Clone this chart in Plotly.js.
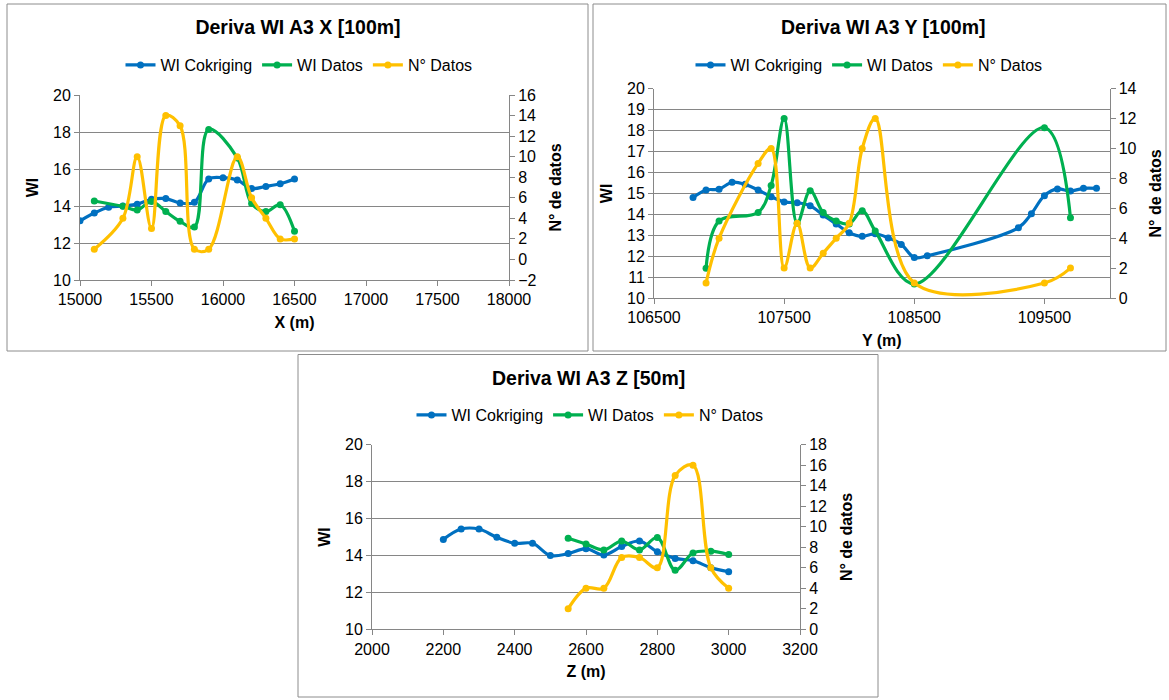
<!DOCTYPE html>
<html>
<head>
<meta charset="utf-8">
<script src="https://cdn.plot.ly/plotly-3.0.1.min.js"></script>
<style>html,body{margin:0;padding:0;background:#fff;}#chart{width:1169px;height:700px;}</style>
</head>
<body>
<div id="chart"></div>
<script>
// ---------- Data ----------
const seriesNames = ["WI Cokriging", "WI Datos", "N° Datos"];
const panelTitles = ["Deriva WI A3 X [100m]", "Deriva WI A3 Y [100m]", "Deriva WI A3 Z [50m]"];
const xAxisTitles = ["X (m)", "Y (m)", "Z (m)"];

// Panel X
const cokX_pos = [15000,15100,15200,15300,15400,15500,15600,15700,15800,15900,16000,16100,16200,16300,16400,16500];
const cokX_wi  = [13.2,13.62,13.93,14.0,14.1,14.36,14.4,14.16,14.2,15.46,15.53,15.4,14.95,15.06,15.2,15.46];
const datX_pos = [15100,15300,15400,15500,15600,15700,15800,15900,16100,16200,16300,16400,16500];
const datX_wi  = [14.27,13.98,13.78,14.25,13.7,13.17,12.86,18.14,16.6,14.13,13.7,14.07,12.63];
const datX_n   = [1,4,10,3,14,13,1,1,10,6,4,2,2];

// Panel Y
const cokY_pos = [106800,106900,107000,107100,107200,107300,107400,107500,107600,107700,107800,107900,108000,108100,108200,108300,108400,108500,108600,109300,109400,109500,109600,109700,109800,109900];
const cokY_wi  = [14.8,15.16,15.2,15.53,15.43,15.16,14.84,14.59,14.55,14.41,13.96,13.54,13.12,12.95,13.07,12.87,12.56,11.93,12.02,13.36,14.03,14.89,15.21,15.11,15.24,15.24];
const datY_pos = [106900,107000,107300,107400,107500,107600,107700,107800,107900,108000,108100,108200,108500,109500,109700];
const datY_wi  = [11.42,13.68,14.09,15.38,18.58,13.57,15.13,14.08,13.68,13.54,14.17,13.2,10.67,18.14,13.84];
const datY_n   = [1,4,9,10,2,5,2,3,4,5,10,12,1,1,2];

// Panel Z
const cokZ_pos = [2200,2250,2300,2350,2400,2450,2500,2550,2600,2650,2700,2750,2800,2850,2900,2950,3000];
const cokZ_wi  = [14.87,15.43,15.43,14.98,14.66,14.66,14.0,14.1,14.37,14.03,14.48,14.78,14.2,13.84,13.72,13.34,13.12];
const datZ_pos = [2550,2600,2650,2700,2750,2800,2850,2900,2950,3000];
const datZ_wi  = [14.93,14.62,14.3,14.78,14.3,14.97,13.2,14.14,14.23,14.05];
const datZ_n   = [2,4,4,7,7,6,15,16,6,4];

// ---------- Styling ----------
const W = 1169, H = 700;
const FONT = '"Liberation Sans", Arial, sans-serif';
const C_BLUE = '#0070C0', C_GREEN = '#00B050', C_YEL = '#FFC000';
const GRID = '#868686';
const px = v => v / W;
const py = v => 1 - v / H;

function trace(x, y, name, color, xa, ya, leg) {
  return {
    type: 'scatter', mode: 'lines+markers', x: x, y: y, name: name,
    line: {color: color, width: 3.2, shape: 'spline', smoothing: 1},
    marker: {color: color, size: 7},
    xaxis: xa, yaxis: ya, legend: leg, showlegend: true, hoverinfo: 'x+y'
  };
}

const data = [
  trace(cokX_pos, cokX_wi, seriesNames[0], C_BLUE, 'x', 'y', 'legend'),
  trace(datX_pos, datX_wi, seriesNames[1], C_GREEN, 'x', 'y', 'legend'),
  trace(datX_pos, datX_n, seriesNames[2], C_YEL, 'x', 'y2', 'legend'),
  trace(cokY_pos, cokY_wi, seriesNames[0], C_BLUE, 'x2', 'y3', 'legend2'),
  trace(datY_pos, datY_wi, seriesNames[1], C_GREEN, 'x2', 'y3', 'legend2'),
  trace(datY_pos, datY_n, seriesNames[2], C_YEL, 'x2', 'y4', 'legend2'),
  trace(cokZ_pos, cokZ_wi, seriesNames[0], C_BLUE, 'x3', 'y5', 'legend3'),
  trace(datZ_pos, datZ_wi, seriesNames[1], C_GREEN, 'x3', 'y5', 'legend3'),
  trace(datZ_pos, datZ_n, seriesNames[2], C_YEL, 'x3', 'y6', 'legend3')
];

const tickFont = {family: FONT, size: 16, color: '#000'};
const titleFont = {family: FONT, size: 16, color: '#000'};

function xAxis(domain, anchor, range, dtick, tick0, title) {
  return {
    domain: domain, anchor: anchor, range: range, dtick: dtick, tick0: tick0, tickformat: 'd',
    showgrid: false, zeroline: false, showline: true, linecolor: GRID, linewidth: 1,
    ticks: 'outside', ticklen: 5, tickcolor: GRID, tickfont: tickFont,
    title: {text: '<b>' + title + '</b>', font: titleFont, standoff: 9},
    automargin: false, fixedrange: true
  };
}
function yLeft(domain, anchor, range, dtick) {
  return {
    domain: domain, anchor: anchor, range: range, dtick: dtick,
    showgrid: true, gridcolor: GRID, gridwidth: 1, zeroline: false,
    showline: true, linecolor: GRID, linewidth: 1,
    ticks: 'outside', ticklen: 5, tickcolor: GRID, tickfont: tickFont,
    title: {text: '<b>WI</b>', font: titleFont, standoff: 10},
    automargin: false, fixedrange: true
  };
}
function yRight(overlay, anchor, range, dtick) {
  return {
    overlaying: overlay, anchor: anchor, side: 'right', range: range, dtick: dtick,
    showgrid: false, zeroline: false, showline: true, linecolor: GRID, linewidth: 1,
    ticks: 'outside', ticklen: 5, tickcolor: GRID, tickfont: tickFont,
    title: {text: '<b>N° de datos</b>', font: titleFont, standoff: 14},
    automargin: false, fixedrange: true
  };
}
function legendAt(xc, yc) {
  return {
    orientation: 'h', x: px(xc), y: py(yc), xanchor: 'center', yanchor: 'middle',
    font: {family: FONT, size: 16, color: '#000'}, bgcolor: 'rgba(0,0,0,0)',
    traceorder: 'normal', itemwidth: 30, tracegroupgap: 0
  };
}

const titleStyle = {family: FONT, size: 19.5, color: '#000'};

const layout = {
  width: W, height: H,
  margin: {l: 0, r: 0, t: 0, b: 0},
  paper_bgcolor: '#fff', plot_bgcolor: 'rgba(0,0,0,0)',
  font: {family: FONT, size: 16, color: '#000'},
  title: {text: '<b>' + panelTitles[0] + '</b>', font: titleStyle,
          x: px(298), y: py(27), xref: 'paper', yref: 'paper', xanchor: 'center', yanchor: 'middle'},
  xaxis:  xAxis([px(80), px(509)], 'y', [15000, 18000], 500, 15000, xAxisTitles[0]),
  yaxis:  yLeft([py(280), py(95)], 'x', [10, 20], 2),
  yaxis2: yRight('y', 'x', [-2, 16], 2),
  xaxis2: xAxis([px(654), px(1109.5)], 'y3', [106500, 110000], 1000, 106500, xAxisTitles[1]),
  yaxis3: yLeft([py(298), py(88.7)], 'x2', [10, 20], 1),
  yaxis4: yRight('y3', 'x2', [0, 14], 2),
  xaxis3: xAxis([px(372), px(800)], 'y5', [2000, 3200], 200, 2000, xAxisTitles[2]),
  yaxis5: yLeft([py(629.3), py(444.7)], 'x3', [10, 20], 2),
  yaxis6: yRight('y5', 'x3', [0, 18], 2),
  legend: legendAt(299, 65),
  legend2: legendAt(869, 65),
  legend3: legendAt(590, 415),
  annotations: [
    {text: '<b>' + panelTitles[1] + '</b>', x: px(883), y: py(27), xref: 'paper', yref: 'paper',
     xanchor: 'center', yanchor: 'middle', showarrow: false, font: titleStyle},
    {text: '<b>' + panelTitles[2] + '</b>', x: px(588), y: py(378), xref: 'paper', yref: 'paper',
     xanchor: 'center', yanchor: 'middle', showarrow: false, font: titleStyle}
  ],
  shapes: [
    {type: 'rect', xref: 'paper', yref: 'paper', x0: px(7), x1: px(588), y0: py(351), y1: py(4), line: {color: '#8c8c8c', width: 1}},
    {type: 'rect', xref: 'paper', yref: 'paper', x0: px(593), x1: px(1166), y0: py(351), y1: py(4), line: {color: '#8c8c8c', width: 1}},
    {type: 'rect', xref: 'paper', yref: 'paper', x0: px(298), x1: px(878), y0: py(697), y1: py(354.5), line: {color: '#8c8c8c', width: 1}}
  ]
};

Plotly.newPlot('chart', data, layout, {displayModeBar: false, staticPlot: true});
</script>
</body>
</html>
